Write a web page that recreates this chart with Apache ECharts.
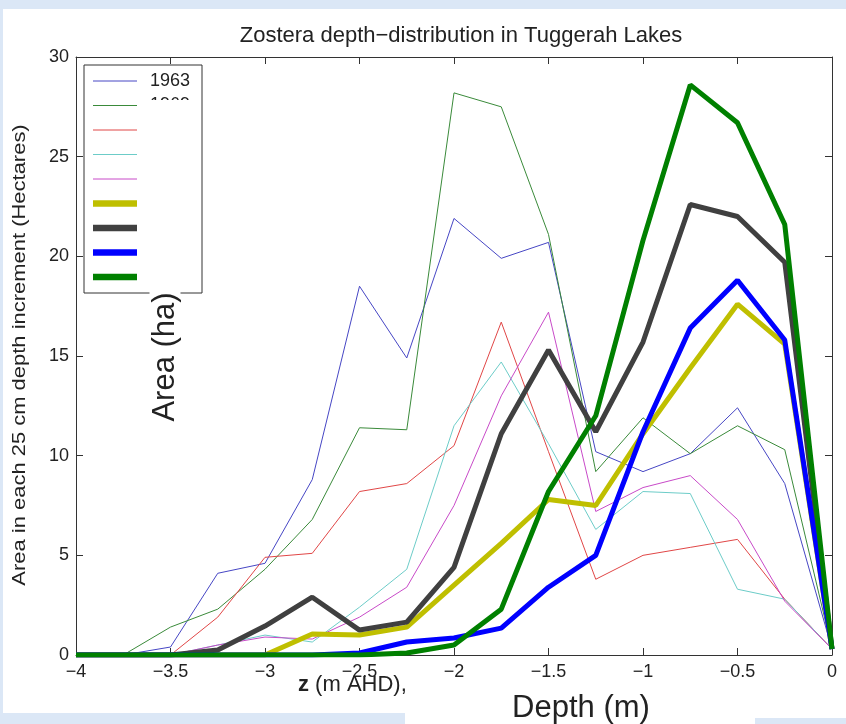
<!DOCTYPE html>
<html>
<head>
<meta charset="utf-8">
<script src="https://cdn.jsdelivr.net/npm/echarts@6/dist/echarts.min.js"></script>
<style>
html,body{margin:0;padding:0;background:#fff;}
#chart{width:846px;height:724px;}
</style>
</head>
<body>
<div id="chart"></div>
<script>
// Depth (m AHD) of each 25 cm increment
var depths = [-4,-3.75,-3.5,-3.25,-3,-2.75,-2.5,-2.25,-2,-1.75,-1.5,-1.25,-1,-0.75,-0.5,-0.25,0];
// Area (ha) per series
var s1963 = [0,0,0.4,4.1,4.6,8.8,18.5,14.9,21.9,19.9,20.7,10.2,9.2,10.1,12.4,8.6,0.3];
var s1969 = [0,0,1.4,2.3,4.3,6.8,11.4,11.3,28.2,27.5,21.1,9.2,11.9,10.1,11.5,10.3,0.3];
var sRed = [0,0,0,1.9,4.9,5.1,8.2,8.6,10.5,16.7,10.2,3.8,5.0,5.4,5.8,2.8,0.3];
var sCyan = [0,0,0,0.5,1.0,0.65,2.4,4.3,11.5,14.7,10.6,6.3,8.2,8.1,3.3,2.8,0.3];
var sMagenta = [0,0,0,0.5,0.9,0.8,1.9,3.4,7.5,13.0,17.2,7.2,8.4,9.0,6.8,2.7,0.3];
var sYellow = [0,0,0,0,0,1.05,1.0,1.4,3.5,5.6,7.8,7.5,11.1,14.4,17.6,15.6,0.3];
var sBlack = [0,0,0,0.25,1.45,2.9,1.25,1.65,4.4,11.1,15.3,11.2,15.7,22.6,22.0,19.7,0.3];
var sBlue = [0,0,0,0,0,0,0.1,0.65,0.85,1.35,3.4,5.0,11.2,16.4,18.8,15.8,0.3];
var sGreen = [0,0,0,0,0,0,0,0.1,0.5,2.3,8.2,12.0,20.8,28.6,26.7,21.6,0.3];

// Only the first legend labels are legible in the reference
var seriesNames = ['1963','1969','Series 3','Series 4','Series 5','Series 6','Series 7','Series 8','Series 9'];
var visibleLegendNames = ['1963','1969'];
var seriesValues = [s1963,s1969,sRed,sCyan,sMagenta,sYellow,sBlack,sBlue,sGreen];
var seriesColors = ['#4646c4','#3a8a3a','#e04646','#6cccc8','#c84ac8','#bfbf00','#404040','#0000ff','#008000'];
var seriesWidths = [1,1,1,1,1,5,5,5,5];

var xTicks = {min:-4, max:0, interval:0.5};
var yTicks = {min:0, max:30, interval:5};

function pairs(vals){ return depths.map(function(d,i){ return [d, vals[i]]; }); }
function fmt(v){ return v === 0 ? '0' : String(v).replace('-', '\u2212'); }

var FONT = '"Liberation Sans", Arial, Helvetica, sans-serif';

var series = seriesNames.map(function(n,i){
  return {
    name: n, type: 'line', data: pairs(seriesValues[i]),
    symbol: 'none', animation: false, z: 2 + i * 0.01,
    lineStyle: {color: seriesColors[i], width: seriesWidths[i]}
  };
});

var axisLineStyle = {color: '#333', width: 1};

// legend drawn as graphic elements (box, sample lines, labels)
var legendGraphics = [
  {type: 'rect', shape: {x: 84, y: 65, width: 118, height: 228}, style: {fill: '#fff', stroke: '#333', lineWidth: 1}, z: 30, silent: true}
];
seriesNames.forEach(function(n, i){
  var yy = 81 + i * 24.5;
  legendGraphics.push({type: 'line', shape: {x1: 93, y1: yy, x2: 137, y2: yy},
    style: {stroke: seriesColors[i], lineWidth: seriesWidths[i] === 1 ? 1 : 6.5}, z: 31, silent: true});
  if (visibleLegendNames.indexOf(n) >= 0) {
    legendGraphics.push({type: 'text', x: 150, y: yy, z: 31, silent: true,
      style: {text: n, fontSize: 18, fontFamily: FONT, fill: '#222', verticalAlign: 'middle'}});
  }
});
legendGraphics.push({type: 'rect', shape: {x: 139, y: 100, width: 52, height: 191}, style: {fill: '#fff'}, z: 32, silent: true});

var option = {
  animation: false,
  textStyle: {fontFamily: FONT},
  title: {
    text: 'Zostera depth\u2212distribution in Tuggerah Lakes',
    left: 456, top: 20, textAlign: 'center',
    textStyle: {fontSize: 22, fontWeight: 'normal', color: '#222', fontFamily: FONT}
  },
  grid: {left: 76, right: 14, top: 57, bottom: 69, containLabel: false},
  xAxis: [
    {type: 'value', position: 'bottom', min: xTicks.min, max: xTicks.max, interval: xTicks.interval,
     axisLine: {show: true, onZero: false, lineStyle: axisLineStyle},
     axisTick: {show: true, inside: true, length: 7, lineStyle: axisLineStyle},
     axisLabel: {formatter: fmt, fontSize: 18, color: '#222', margin: 8, fontFamily: FONT},
     splitLine: {show: false}},
    {type: 'value', position: 'top', min: xTicks.min, max: xTicks.max, interval: xTicks.interval,
     axisLine: {show: true, onZero: false, lineStyle: axisLineStyle},
     axisTick: {show: true, inside: true, length: 7, lineStyle: axisLineStyle},
     axisLabel: {show: false}, splitLine: {show: false}}
  ],
  yAxis: [
    {type: 'value', position: 'left', min: yTicks.min, max: yTicks.max, interval: yTicks.interval,
     axisLine: {show: true, onZero: false, lineStyle: axisLineStyle},
     axisTick: {show: true, inside: true, length: 7, lineStyle: axisLineStyle},
     axisLabel: {fontSize: 18, color: '#222', margin: 7, fontFamily: FONT},
     splitLine: {show: false}},
    {type: 'value', position: 'right', min: yTicks.min, max: yTicks.max, interval: yTicks.interval,
     axisLine: {show: true, onZero: false, lineStyle: axisLineStyle},
     axisTick: {show: true, inside: true, length: 7, lineStyle: axisLineStyle},
     axisLabel: {show: false}, splitLine: {show: false}}
  ],
  graphic: [
    {type: 'rect', shape: {x: 0, y: 0, width: 846, height: 9}, style: {fill: '#dbe7f6'}, z: 0, silent: true},
    {type: 'rect', shape: {x: 0, y: 0, width: 3, height: 724}, style: {fill: '#dbe7f6'}, z: 0, silent: true},
    {type: 'rect', shape: {x: 0, y: 713, width: 405, height: 11}, style: {fill: '#dbe7f6'}, z: 0, silent: true},
    {type: 'rect', shape: {x: 755, y: 718, width: 91, height: 6}, style: {fill: '#dbe7f6'}, z: 0, silent: true},
    {type: 'text', x: 20, y: 355, rotation: Math.PI / 2, scaleX: 1.22, z: 10, silent: true,
     style: {text: 'Area in each 25 cm depth increment (Hectares)', fontSize: 18, fontFamily: FONT, fill: '#222', align: 'center', verticalAlign: 'middle'}},
    {type: 'text', x: 165, y: 357, rotation: Math.PI / 2, z: 40, silent: true,
     style: {text: 'Area (ha)', fontSize: 31, fontFamily: FONT, fill: '#222', align: 'center', verticalAlign: 'middle', backgroundColor: '#fff', padding: [0, 3]}},
    {type: 'text', x: 298, y: 685, z: 10, silent: true,
     style: {text: '{b|z} (m AHD),', fontSize: 22, fontFamily: FONT, fill: '#222', verticalAlign: 'middle',
       rich: {b: {fontWeight: 'bold', fontSize: 22, fontFamily: FONT, fill: '#222'}}}},
    {type: 'text', x: 581, y: 708, z: 10, silent: true,
     style: {text: 'Depth (m)', fontSize: 31, fontFamily: FONT, fill: '#222', align: 'center', verticalAlign: 'middle', backgroundColor: '#fff', padding: [0, 4]}}
  ].concat(legendGraphics),
  series: series
};

var chart = echarts.init(document.getElementById('chart'), null, {renderer: 'canvas'});
chart.setOption(option);
</script>
</body>
</html>
